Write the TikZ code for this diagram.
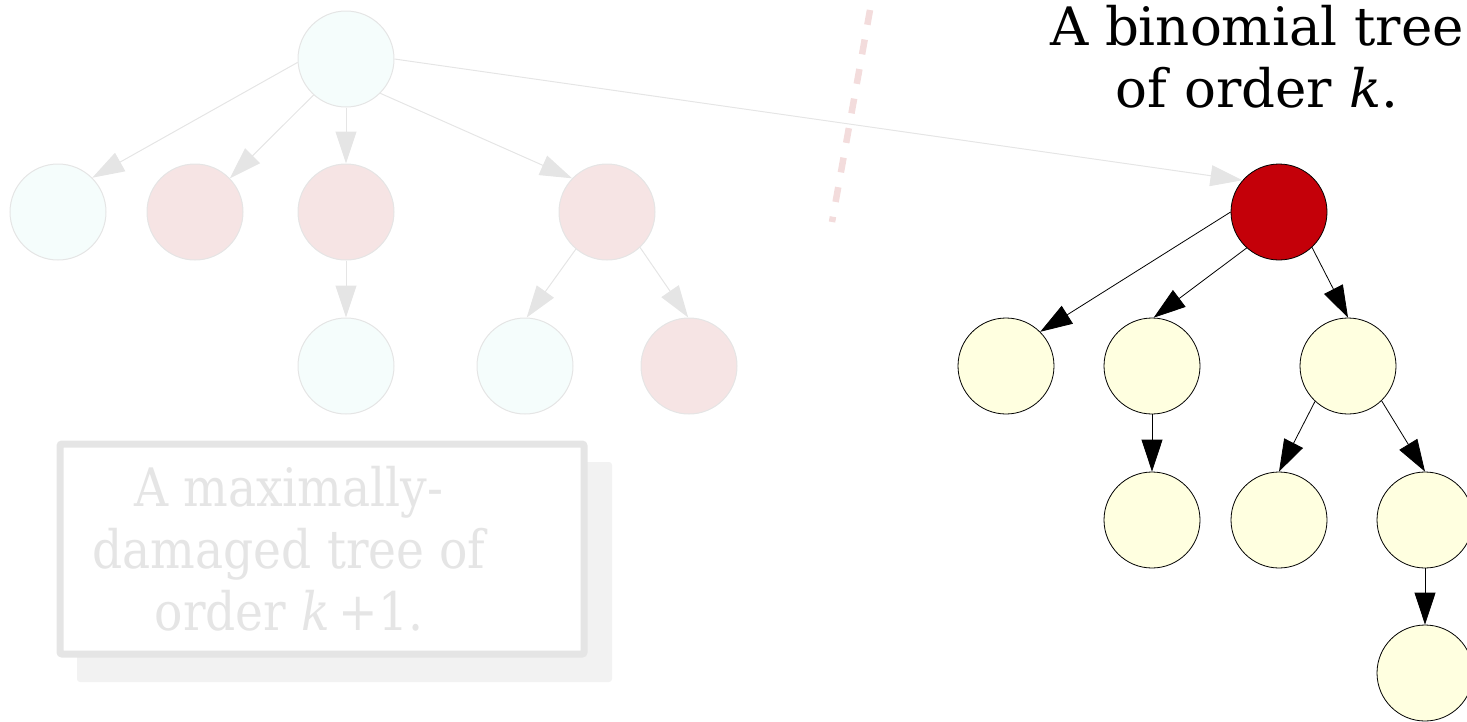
\documentclass[tikz,border=0pt]{standalone}
\usepackage{fontspec}
\setmainfont{DejaVu Serif}
\newfontfamily\condserif{DejaVu Serif}[FakeStretch=0.89]
\usetikzlibrary{arrows.meta}
\definecolor{ghostline}{HTML}{E5E5E5}
\definecolor{ghostcyan}{HTML}{F5FDFC}
\definecolor{ghostpink}{HTML}{F6E4E4}
\definecolor{ghostshadow}{HTML}{F2F2F2}
\definecolor{dashpink}{HTML}{F3DCDC}
\definecolor{rootred}{HTML}{C40009}
\definecolor{nodeyellow}{HTML}{FFFFE0}
\tikzset{
  ghostnode/.style={circle, draw=ghostline, line width=1pt, minimum size=96pt, inner sep=0pt},
  gcyan/.style={ghostnode, fill=ghostcyan},
  gpink/.style={ghostnode, fill=ghostpink},
  realnode/.style={circle, draw=black, line width=0.8pt, minimum size=96pt, inner sep=0pt},
  ynode/.style={realnode, fill=nodeyellow},
  rnode/.style={realnode, fill=rootred},
  ghostedge/.style={draw=ghostline, line width=1pt, -{Triangle[length=32pt,width=21pt,fill=ghostline]}},
  realedge/.style={draw=black, line width=0.8pt, -{Triangle[length=32pt,width=21pt,fill=black]}},
  bigtext/.style={font=\fontsize{53}{62}\selectfont, align=center, inner sep=0pt}
}
\begin{document}
\begin{tikzpicture}[x=1pt,y=-1pt]
\useasboundingbox (0,0) rectangle (1467,721);
% ghost tree
\node[gcyan] (g0) at (346,59) {};
\node[gcyan] (g1) at (58,212) {};
\node[gpink] (g2) at (195,212) {};
\node[gpink] (g3) at (346,212) {};
\node[gpink] (g4) at (607,212) {};
\node[gcyan] (g5) at (346,366) {};
\node[gcyan] (g6) at (525,366) {};
\node[gpink] (g7) at (689,366) {};
% binomial tree
\node[rnode] (r0) at (1279,212) {};
\node[ynode] (c1) at (1006,366) {};
\node[ynode] (c2) at (1152,366) {};
\node[ynode] (c3) at (1348,366) {};
\node[ynode] (d1) at (1152,520) {};
\node[ynode] (d2) at (1279,520) {};
\node[ynode] (d3) at (1425,520) {};
\node[ynode] (e1) at (1425,673) {};
% ghost edges
\draw[ghostedge] (g0.184) -- (g1.45);
\draw[ghostedge] (g0.228) -- (g2.44);
\draw[ghostedge] (g0.south) -- (g3.north);
\draw[ghostedge] (g0.315) -- (g4.136);
\draw[ghostedge] (g3.south) -- (g5.north);
\draw[ghostedge] (g4.230) -- (g6.88);
\draw[ghostedge] (g4.313) -- (g7.91);
\draw[ghostedge] (g0.0) -- (r0.139);
% real edges
\draw[realedge] (r0.180) -- (c1.45);
\draw[realedge] (r0.228) -- (c2.88);
\draw[realedge] (r0.313) -- (c3.90);
\draw[realedge] (c2.south) -- (d1.north);
\draw[realedge] (c3.227) -- (d2.90);
\draw[realedge] (c3.314) -- (d3.90);
\draw[realedge] (d3.south) -- (e1.north);
% dashed divider
\coordinate (dtop) at (870,10);
\coordinate (dbot) at (832,222);
\draw[dashpink, line width=6.5pt, dash pattern=on 15pt off 15pt] (dtop) -- (dbot);
% ghost caption box
\fill[ghostshadow, rounded corners=3pt] (77,462) rectangle (612,682);
\draw[ghostline, line width=7pt, fill=white, rounded corners=2pt] (60,444) rectangle (584,654);
\node[bigtext, text=ghostline, font=\condserif\fontsize{53}{62}\selectfont] (gcap) at (289,549) {A maximally-\\damaged tree of\\order \textit{k}\,+1.};
% title
\node[bigtext, text=black] (title) at (1257,57) {A binomial tree\\of order \textit{k}.};
\end{tikzpicture}
\end{document}
